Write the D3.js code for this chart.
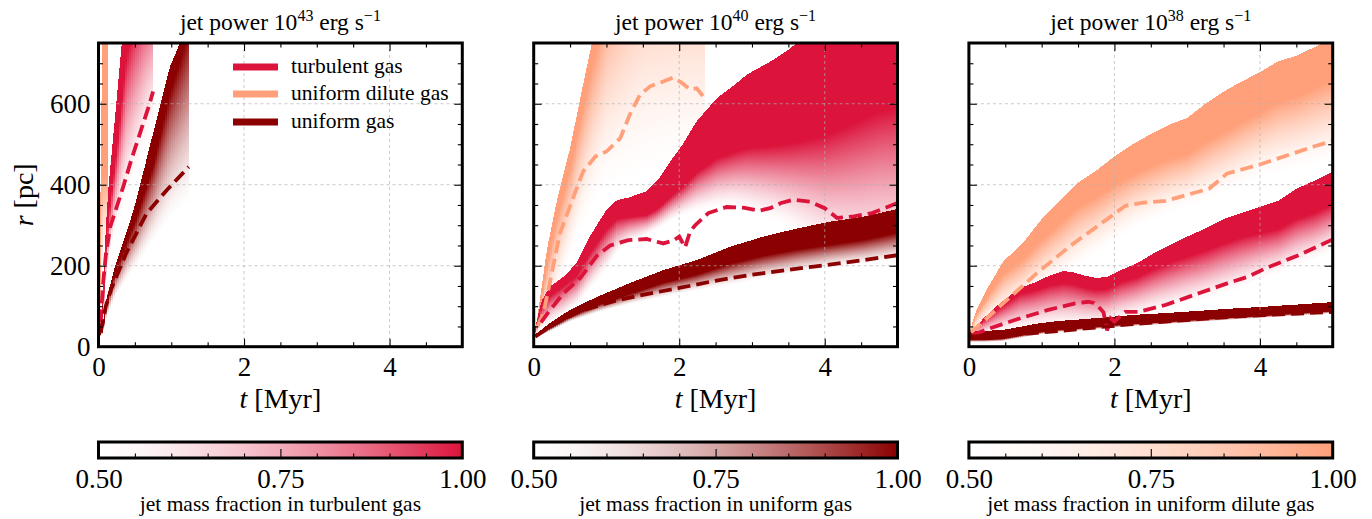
<!DOCTYPE html>
<html>
<head>
<meta charset="utf-8">
<script src="https://cdn.jsdelivr.net/npm/d3@7"></script>
<style>
  body { margin: 0; background: #fff; }
  svg { display: block; }
  text { font-family: "Liberation Serif", "Times New Roman", serif; fill: #000; }
</style>
</head>
<body>
<svg id="fig" width="1372" height="519"></svg>
<script>
// ---------------- data: radius r [pc] versus time t [Myr] ----------------
// Each band: top edge of the jet-filled region, the radius down to which the
// jet fraction stays ~1, and the radius where it has dropped to 0.5.
// Dashed lines: characteristic radius of each run.

const panelTitles = ["43", "40", "38"];          // jet power exponents (erg/s)
const xTicksMajor = [0, 2, 4];
const yTicksMajor = [0, 200, 400, 600];
const cbarTicks = [0.50, 0.75, 1.00];
const cbarLabels = ["jet mass fraction in turbulent gas",
                    "jet mass fraction in uniform gas",
                    "jet mass fraction in uniform dilute gas"];
const legendLabels = ["turbulent gas", "uniform dilute gas", "uniform gas"];

// --- jet power 1e43 ---
const p43DiluteT    = [0, 0.02, 0.04, 0.06, 0.08, 0.10, 0.12, 0.13];
const p43DiluteTop  = [30, 250, 600, 900, 1200, 1400, 1600, 1700];
const p43DiluteSat  = [30, 230, 420, 420, 420, 420, 420, 420];
const p43DiluteFade = [30, 60, 150, 200, 230, 230, 230, 230];

const p43TurbT    = [0, 0.03, 0.06, 0.09, 0.14, 0.20, 0.26, 0.32, 0.38, 0.44, 0.50, 0.56, 0.62, 0.68, 0.75];
const p43TurbTop  = [30, 60, 125, 268, 400, 515, 630, 750, 870, 990, 1100, 1200, 1300, 1400, 1500];
const p43TurbSat  = [30, 55, 110, 230, 330, 420, 510, 620, 720, 760, 800, 830, 860, 880, 900];
const p43TurbFade = [30, 40, 70, 150, 220, 270, 310, 340, 370, 395, 425, 455, 490, 520, 550];

const p43UnifT    = [0, 0.05, 0.10, 0.22, 0.40, 0.52, 0.75, 0.98, 1.12, 1.25];
const p43UnifTop  = [25, 45, 110, 195, 290, 362, 527, 691, 750, 830];
const p43UnifSat  = [25, 40, 100, 180, 265, 320, 450, 630, 710, 790];
const p43UnifFade = [25, 30, 70, 120, 170, 200, 260, 315, 340, 360];

const p43TurbDashT = [0.03, 0.06, 0.10, 0.16, 0.25, 0.34, 0.45, 0.57, 0.69, 0.75];
const p43TurbDashR = [60, 150, 225, 296, 345, 395, 461, 527, 593, 630];
const p43UnifDashT = [0.03, 0.10, 0.18, 0.38, 0.66, 0.94, 1.24];
const p43UnifDashR = [35, 100, 145, 231, 329, 387, 444];

// --- jet power 1e40 ---
const p40DiluteT    = [0, 0.04, 0.18, 0.32, 0.50, 0.64, 0.80, 0.90, 1.00, 1.20, 1.40, 1.60, 1.80, 2.00, 2.20, 2.35];
const p40DiluteTop  = [30, 58, 239, 362, 490, 614, 750, 830, 900, 1000, 1100, 1200, 1300, 1400, 1500, 1600];
const p40DiluteSat  = [30, 50, 200, 320, 440, 560, 690, 760, 850, 950, 1050, 1100, 1100, 1100, 1100, 1100];
const p40DiluteFade = [30, 30, 70, 130, 220, 290, 350, 380, 400, 410, 420, 430, 440, 450, 450, 450];

const p40TurbT    = [0, 0.10, 0.22, 0.41, 0.59, 0.77, 1.00, 1.14, 1.30, 1.55, 1.70, 1.88, 2.05, 2.24, 2.52, 2.75, 2.93, 3.26, 3.50, 3.75, 4.00, 4.25, 4.50, 4.75, 5.00];
const p40TurbTop  = [30, 110, 148, 173, 206, 272, 338, 362, 368, 384, 410, 458, 500, 557, 614, 645, 672, 705, 733, 770, 800, 830, 860, 890, 920];
const p40TurbSat  = [30, 95, 125, 150, 175, 230, 290, 315, 320, 325, 340, 370, 395, 430, 465, 480, 490, 495, 500, 510, 520, 540, 560, 580, 590];
const p40TurbFade = [30, 45, 55, 75, 100, 140, 190, 230, 255, 275, 290, 310, 325, 335, 345, 345, 335, 315, 295, 265, 235, 215, 200, 195, 190];

const p40UnifT    = [0, 0.04, 0.22, 0.50, 0.87, 1.32, 1.78, 2.24, 2.70, 3.16, 3.62, 4.08, 4.53, 5.00];
const p40UnifTop  = [28, 33, 58, 91, 123, 157, 189, 214, 247, 272, 292, 309, 321, 340];
const p40UnifSat  = [28, 28, 45, 74, 102, 130, 158, 178, 205, 225, 240, 252, 264, 282];
const p40UnifFade = [28, 25, 38, 62, 84, 105, 122, 138, 152, 167, 182, 195, 205, 218];

const p40DiluteDashT = [0.05, 0.13, 0.22, 0.36, 0.54, 0.68, 0.85, 1.00, 1.19, 1.32, 1.46, 1.60, 1.78, 1.92, 2.04, 2.15, 2.24, 2.33];
const p40DiluteDashR = [50, 80, 157, 280, 367, 433, 470, 482, 515, 573, 622, 643, 655, 665, 651, 635, 638, 618];
const p40TurbDashT = [0.10, 0.20, 0.41, 0.64, 0.87, 1.05, 1.30, 1.55, 1.78, 1.92, 2.00, 2.08, 2.15, 2.22, 2.40, 2.65, 2.90, 3.10, 3.25, 3.40, 3.57, 3.80, 4.00, 4.17, 4.40, 4.65, 5.00];
const p40TurbDashR = [60, 85, 132, 170, 225, 250, 263, 266, 255, 262, 272, 245, 285, 300, 330, 345, 343, 336, 342, 355, 363, 358, 342, 318, 322, 330, 355];
const p40UnifDashT = [0.02, 0.30, 0.64, 1.09, 1.55, 2.00, 2.47, 2.93, 3.39, 3.85, 4.30, 5.00];
const p40UnifDashR = [25, 58, 88, 112, 130, 145, 162, 176, 187, 198, 208, 226];

// --- jet power 1e38 ---
const p38DiluteT    = [0, 0.10, 0.24, 0.47, 0.75, 1.00, 1.25, 1.50, 1.75, 2.00, 2.25, 2.50, 2.75, 3.00, 3.25, 3.50, 3.75, 4.00, 4.25, 4.50, 4.75, 5.00];
const p38DiluteTop  = [30, 90, 140, 210, 258, 315, 360, 405, 435, 470, 500, 525, 548, 565, 600, 630, 655, 678, 705, 718, 740, 760];
const p38DiluteSat  = [30, 80, 120, 180, 218, 265, 305, 345, 370, 400, 425, 445, 463, 475, 505, 530, 555, 578, 605, 618, 640, 660];
const p38DiluteFade = [30, 40, 60, 80, 110, 140, 170, 200, 230, 260, 290, 310, 330, 345, 360, 380, 400, 420, 430, 440, 450, 460];

const p38TurbT    = [0, 0.20, 0.40, 0.70, 0.90, 1.10, 1.30, 1.45, 1.60, 1.75, 1.90, 2.10, 2.30, 2.55, 2.80, 3.00, 3.25, 3.50, 3.75, 4.00, 4.25, 4.50, 4.75, 5.00];
const p38TurbTop  = [30, 70, 103, 145, 158, 175, 187, 183, 175, 170, 172, 190, 205, 232, 255, 272, 292, 315, 330, 345, 360, 390, 410, 432];
const p38TurbSat  = [30, 65, 93, 130, 138, 150, 157, 153, 145, 140, 142, 160, 170, 192, 210, 222, 237, 255, 270, 280, 290, 315, 330, 352];
const p38TurbFade = [30, 30, 35, 40, 45, 48, 50, 50, 50, 50, 55, 65, 75, 85, 95, 105, 115, 130, 145, 165, 180, 200, 215, 235];

const p38UnifT    = [0, 0.20, 0.45, 0.70, 0.90, 1.20, 1.50, 1.90, 2.30, 2.70, 3.20, 3.60, 4.00, 4.50, 5.00];
const p38UnifTop  = [39, 39, 41, 49, 56, 63, 67, 73, 79, 83, 89, 94, 98, 104, 110];
const p38UnifSat  = [17, 17, 19, 27, 34, 41, 45, 51, 57, 61, 67, 72, 76, 82, 88];
const p38UnifFade = [11, 11, 13, 21, 28, 35, 39, 45, 51, 55, 61, 66, 70, 76, 82];

const p38DiluteDashT = [0.03, 0.47, 0.93, 1.40, 1.90, 2.15, 2.40, 2.70, 3.00, 3.30, 3.55, 3.80, 4.00, 4.25, 4.50, 4.75, 5.00];
const p38DiluteDashR = [35, 107, 181, 250, 315, 348, 356, 360, 375, 390, 428, 440, 450, 465, 480, 495, 508];
const p38TurbDashT = [0.05, 0.22, 0.63, 1.09, 1.46, 1.64, 1.72, 1.78, 1.85, 1.90, 1.95, 2.00, 2.15, 2.33, 2.70, 3.16, 3.61, 3.84, 4.07, 4.53, 5.00];
const p38TurbDashR = [28, 41, 66, 91, 107, 111, 108, 99, 85, 40, 70, 62, 86, 86, 103, 132, 160, 173, 193, 226, 265];
const p38UnifDashT = [0, 0.45, 0.86, 1.30, 1.78, 2.20, 2.70, 3.15, 3.61, 4.05, 4.53, 5.00];
const p38UnifDashR = [25, 28, 33, 40, 48, 55, 62, 68, 74, 78, 82, 86];

// ---------------- styling ----------------
const colTurb = "crimson", colDilute = "lightsalmon", colUnif = "darkred";
const legendColors = [colTurb, colDilute, colUnif];
const cbarColors = [colTurb, colUnif, colDilute];

const panelLeft = [98.5, 533.7, 968.9];
const panelW = 363.8, plotTop = 43, plotBottom = 346.7;
const fadeExp = 1.5;
const fadeOffsets = d3.range(0, 1.0001, 0.125);

const panels = [
  { bands: [
      { t: p43DiluteT, top: p43DiluteTop, sat: p43DiluteSat, fade: p43DiluteFade, color: colDilute },
      { t: p43TurbT, top: p43TurbTop, sat: p43TurbSat, fade: p43TurbFade, color: colTurb },
      { t: p43UnifT, top: p43UnifTop, sat: p43UnifSat, fade: p43UnifFade, color: colUnif } ],
    dashes: [
      { t: p43TurbDashT, r: p43TurbDashR, color: colTurb },
      { t: p43UnifDashT, r: p43UnifDashR, color: colUnif } ] },
  { bands: [
      { t: p40DiluteT, top: p40DiluteTop, sat: p40DiluteSat, fade: p40DiluteFade, color: colDilute },
      { t: p40TurbT, top: p40TurbTop, sat: p40TurbSat, fade: p40TurbFade, color: colTurb },
      { t: p40UnifT, top: p40UnifTop, sat: p40UnifSat, fade: p40UnifFade, color: colUnif } ],
    dashes: [
      { t: p40DiluteDashT, r: p40DiluteDashR, color: colDilute },
      { t: p40TurbDashT, r: p40TurbDashR, color: colTurb },
      { t: p40UnifDashT, r: p40UnifDashR, color: colUnif } ] },
  { bands: [
      { t: p38DiluteT, top: p38DiluteTop, sat: p38DiluteSat, fade: p38DiluteFade, color: colDilute },
      { t: p38TurbT, top: p38TurbTop, sat: p38TurbSat, fade: p38TurbFade, color: colTurb },
      { t: p38UnifT, top: p38UnifTop, sat: p38UnifSat, fade: p38UnifFade, color: colUnif } ],
    dashes: [
      { t: p38DiluteDashT, r: p38DiluteDashR, color: colDilute },
      { t: p38TurbDashT, r: p38TurbDashR, color: colTurb },
      { t: p38UnifDashT, r: p38UnifDashR, color: colUnif } ] }
];

// ---------------- drawing ----------------
const svg = d3.select("#fig");
svg.append("rect").attr("width", 1372).attr("height", 519).attr("fill", "#fff");
const defs = svg.append("defs");
let gradCount = 0;

// vertical fade: full colour at y1, white (transparent) at y2
function fadeGradient(color, y1, y2) {
  const id = "fade" + (gradCount++);
  const lg = defs.append("linearGradient").attr("id", id)
    .attr("gradientUnits", "userSpaceOnUse")
    .attr("x1", 0).attr("x2", 0).attr("y1", y1).attr("y2", y2);
  fadeOffsets.forEach(o => lg.append("stop").attr("offset", o)
    .attr("stop-color", color).attr("stop-opacity", Math.pow(1 - o, fadeExp)));
  return id;
}

function drawBand(g, x, y, b) {
  const topAt = d3.scaleLinear().domain(b.t).range(b.top);
  const satAt = d3.scaleLinear().domain(b.t).range(b.sat);
  const fadeAt = d3.scaleLinear().domain(b.t).range(b.fade);
  const x0 = x(b.t[0]), x1 = x(b.t[b.t.length - 1]);
  const step = 2;
  for (let xa = x0; xa < x1 - 0.01; xa += step) {
    const xb = Math.min(xa + step, x1);
    const ta = x.invert(xa), tb = x.invert(xb), tm = (ta + tb) / 2;
    const ys = y(satAt(tm));
    const yf = Math.max(y(fadeAt(tm)), ys + 0.5);
    const ya = y(topAt(ta)), yb = y(topAt(tb));
    if (ya >= yf && yb >= yf) continue;
    const id = fadeGradient(b.color, ys, yf);
    g.append("path")
      .attr("d", `M${xa},${yf}L${xa},${Math.min(ya, yf)}L${xb},${Math.min(yb, yf)}L${xb},${yf}Z`)
      .attr("fill", `url(#${id})`)
      .attr("shape-rendering", "crispEdges");
  }
}

panels.forEach((p, i) => {
  const left = panelLeft[i];
  const x = d3.scaleLinear().domain([0, 5]).range([left, left + panelW]);
  const y = d3.scaleLinear().domain([0, 750]).range([plotBottom, plotTop]);

  const clipId = "clip" + i;
  defs.append("clipPath").attr("id", clipId).append("rect")
    .attr("x", left).attr("y", plotTop).attr("width", panelW).attr("height", plotBottom - plotTop);

  const g = svg.append("g").attr("clip-path", `url(#${clipId})`);
  p.bands.forEach(b => drawBand(g, x, y, b));

  // grid
  const grid = svg.append("g").attr("stroke", "#b0b0b0").attr("stroke-width", 0.9)
    .attr("stroke-dasharray", "3,3").attr("stroke-opacity", 0.75);
  xTicksMajor.filter(v => v > 0).forEach(v => grid.append("line")
    .attr("x1", x(v)).attr("x2", x(v)).attr("y1", plotTop).attr("y2", plotBottom));
  yTicksMajor.filter(v => v > 0).forEach(v => grid.append("line")
    .attr("x1", left).attr("x2", left + panelW).attr("y1", y(v)).attr("y2", y(v)));

  // dashed characteristic radii
  const line = d3.line().x(d => x(d[0])).y(d => y(d[1]));
  const gd = svg.append("g").attr("clip-path", `url(#${clipId})`);
  p.dashes.forEach(d => {
    gd.append("path").datum(d.t.map((tv, k) => [tv, d.r[k]]))
      .attr("d", line).attr("fill", "none").attr("stroke", d.color)
      .attr("stroke-width", 3.8).attr("stroke-dasharray", "13,6");
  });

  // ticks (inward, all four sides)
  const xMinor = d3.range(0.5, 5, 0.5).filter(v => !xTicksMajor.includes(v));
  const yMinor = d3.range(50, 750, 50).filter(v => !yTicksMajor.includes(v));
  const tickStyle = sel => { sel.select(".domain").remove(); sel.selectAll("line").attr("stroke", "#000").attr("stroke-width", 1.1); };
  svg.append("g").attr("transform", `translate(0,${plotBottom})`)
    .call(d3.axisBottom(x).tickValues(xTicksMajor).tickSize(-8).tickFormat("")).call(tickStyle);
  svg.append("g").attr("transform", `translate(0,${plotBottom})`)
    .call(d3.axisBottom(x).tickValues(xMinor).tickSize(-4.5).tickFormat("")).call(tickStyle);
  svg.append("g").attr("transform", `translate(0,${plotTop})`)
    .call(d3.axisTop(x).tickValues(xTicksMajor).tickSize(-8).tickFormat("")).call(tickStyle);
  svg.append("g").attr("transform", `translate(0,${plotTop})`)
    .call(d3.axisTop(x).tickValues(xMinor).tickSize(-4.5).tickFormat("")).call(tickStyle);
  svg.append("g").attr("transform", `translate(${left},0)`)
    .call(d3.axisLeft(y).tickValues(yTicksMajor).tickSize(-8).tickFormat("")).call(tickStyle);
  svg.append("g").attr("transform", `translate(${left},0)`)
    .call(d3.axisLeft(y).tickValues(yMinor).tickSize(-4.5).tickFormat("")).call(tickStyle);
  svg.append("g").attr("transform", `translate(${left + panelW},0)`)
    .call(d3.axisRight(y).tickValues(yTicksMajor).tickSize(-8).tickFormat("")).call(tickStyle);
  svg.append("g").attr("transform", `translate(${left + panelW},0)`)
    .call(d3.axisRight(y).tickValues(yMinor).tickSize(-4.5).tickFormat("")).call(tickStyle);

  // tick labels
  const xl = svg.append("g").attr("transform", `translate(0,${plotBottom})`)
    .call(d3.axisBottom(x).tickValues(xTicksMajor).tickSize(0).tickPadding(10).tickFormat(d3.format("d")));
  xl.select(".domain").remove();
  xl.selectAll("text").attr("font-size", 27).attr("font-family", "Liberation Serif");
  if (i === 0) {
    const yl = svg.append("g").attr("transform", `translate(${left},0)`)
      .call(d3.axisLeft(y).tickValues(yTicksMajor).tickSize(0).tickPadding(8).tickFormat(d3.format("d")));
    yl.select(".domain").remove();
    yl.selectAll("text").attr("font-size", 27).attr("font-family", "Liberation Serif");
    const yt = svg.append("text").attr("transform", `translate(33,${(plotTop + plotBottom) / 2}) rotate(-90)`)
      .attr("text-anchor", "middle").attr("font-size", 28);
    yt.append("tspan").attr("font-style", "italic").text("r");
    yt.append("tspan").text(" [pc]");
  }

  // frame
  svg.append("rect").attr("x", left).attr("y", plotTop).attr("width", panelW)
    .attr("height", plotBottom - plotTop).attr("fill", "none").attr("stroke", "#000").attr("stroke-width", 3);

  // x label
  const xt = svg.append("text").attr("x", left + panelW / 2).attr("y", 408)
    .attr("text-anchor", "middle").attr("font-size", 28);
  xt.append("tspan").attr("font-style", "italic").text("t");
  xt.append("tspan").text(" [Myr]");

  // title
  const tt = svg.append("text").attr("x", left + panelW / 2).attr("y", 30)
    .attr("text-anchor", "middle").attr("font-size", 23.5);
  tt.append("tspan").text("jet power 10");
  tt.append("tspan").attr("font-size", 16).attr("dy", -9).text(panelTitles[i]);
  tt.append("tspan").attr("dy", 9).text(" erg s");
  tt.append("tspan").attr("font-size", 16).attr("dy", -9).text("\u22121");

  // colorbar
  const cb = d3.scaleLinear().domain([0.5, 1.0]).range([left, left + panelW]);
  const cbTop = 442, cbH = 16;
  const cid = "cbar" + i;
  const lg = defs.append("linearGradient").attr("id", cid)
    .attr("gradientUnits", "userSpaceOnUse")
    .attr("x1", left).attr("x2", left + panelW).attr("y1", 0).attr("y2", 0);
  fadeOffsets.forEach(o => lg.append("stop").attr("offset", o)
    .attr("stop-color", cbarColors[i]).attr("stop-opacity", Math.pow(o, fadeExp)));
  svg.append("rect").attr("x", left).attr("y", cbTop).attr("width", panelW).attr("height", cbH)
    .attr("fill", `url(#${cid})`);
  const cbMinor = d3.range(0.55, 0.999, 0.05).filter(v => Math.abs(v - 0.75) > 1e-6);
  svg.append("g").attr("transform", `translate(0,${cbTop + cbH})`)
    .call(d3.axisBottom(cb).tickValues(cbMinor).tickSize(-4.5).tickFormat("")).call(tickStyle);
  svg.append("g").attr("transform", `translate(0,${cbTop + cbH})`)
    .call(d3.axisBottom(cb).tickValues([0.75]).tickSize(-9).tickFormat("")).call(tickStyle);
  svg.append("rect").attr("x", left).attr("y", cbTop).attr("width", panelW).attr("height", cbH)
    .attr("fill", "none").attr("stroke", "#000").attr("stroke-width", 3);
  const cl = svg.append("g").attr("transform", `translate(0,${cbTop + cbH})`)
    .call(d3.axisBottom(cb).tickValues(cbarTicks).tickSize(0).tickPadding(11).tickFormat(d3.format(".2f")));
  cl.select(".domain").remove();
  cl.selectAll("text").attr("font-size", 27).attr("font-family", "Liberation Serif");
  svg.append("text").attr("x", left + panelW / 2).attr("y", 511)
    .attr("text-anchor", "middle").attr("font-size", 21.5).text(cbarLabels[i]);
});

// legend (first panel)
const lgX = 233, lgY = [67, 94, 122];
legendLabels.forEach((lab, k) => {
  svg.append("line").attr("x1", lgX).attr("x2", lgX + 45).attr("y1", lgY[k]).attr("y2", lgY[k])
    .attr("stroke", legendColors[k]).attr("stroke-width", 7);
  svg.append("text").attr("x", 291).attr("y", lgY[k] + 6).attr("font-size", 21.5).text(lab);
});
</script>
</body>
</html>
